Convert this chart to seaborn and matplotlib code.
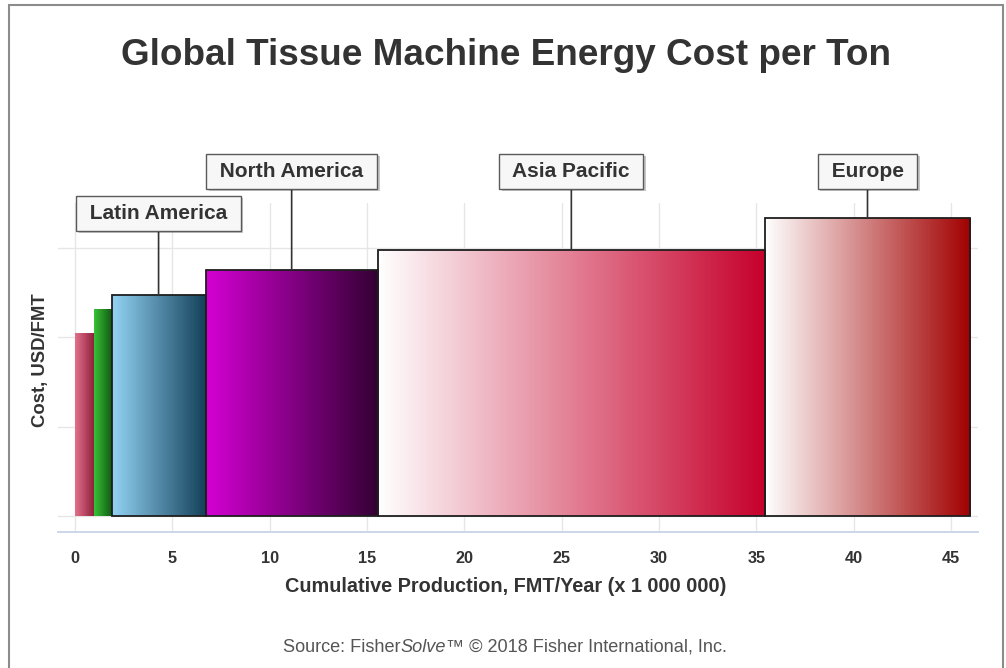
import numpy as np
import pandas as pd
import matplotlib
matplotlib.use("Agg")
import matplotlib.pyplot as plt
import matplotlib.patheffects as pe
from matplotlib.colors import LinearSegmentedColormap
from matplotlib.patches import Rectangle
import seaborn as sns

# Regional supply curve: width = production (million FMT/year), height = energy cost (USD/FMT)
labels = ["", "", "Latin America", "North America", "Asia Pacific", "Europe"]
production = [1.00, 0.88, 4.83, 8.84, 19.89, 10.53]
cost = [102.5, 116.0, 123.5, 138.0, 148.8, 167.0]

# Horizontal gradient of each bar (left colour -> right colour)
grad_start = ["#e4718b", "#36c236", "#93d3f4", "#d400d4", "#ffffff", "#ffffff"]
grad_end = ["#8a1d3b", "#135a13", "#123f58", "#330033", "#c6002b", "#a20000"]
outlined = [False, False, True, True, True, True]

x_ticks = list(range(0, 50, 5))
y_grid = [0, 50, 100, 150]

title = "Global Tissue Machine Energy Cost per Ton"
x_title = "Cumulative Production, FMT/Year (x 1 000 000)"
y_title = "Cost, USD/FMT"

edges = [0.0] + list(np.cumsum(production))
df = pd.DataFrame({"region": labels, "production": production, "cost": cost})
df["mid"] = [(a + b) / 2 for a, b in zip(edges[:-1], edges[1:])]

sns.set_theme(style="white")
plt.rcParams["font.family"] = ["Liberation Sans", "DejaVu Sans"]

W, H = 1006, 668
fig = plt.figure(figsize=(W / 100, H / 100), dpi=100)
ax_bottom, ax_top = 531.7, 203
ax = fig.add_axes([58 / W, 1 - ax_bottom / H, (978 - 58) / W, (ax_bottom - ax_top) / H])

sns.histplot(data=df, x="mid", weights="cost", bins=edges, ax=ax,
             stat="count", fill=True, linewidth=0, legend=False)

bars = list(ax.patches)
for bar, c0, c1, has_edge in zip(bars, grad_start, grad_end, outlined):
    x0, y0 = bar.get_x(), bar.get_y()
    w, h = bar.get_width(), bar.get_height()
    cmap = LinearSegmentedColormap.from_list("bar", [c0, c1])
    im = ax.imshow(np.linspace(0, 1, 256)[None, :], cmap=cmap,
                   extent=(x0, x0 + w, y0, y0 + h), aspect="auto",
                   interpolation="bilinear", zorder=2)
    im.set_clip_path(bar)
    bar.set_facecolor("none")
    bar.set_zorder(3)
    if has_edge:
        bar.set_edgecolor("#1e1e1e")
        bar.set_linewidth(1.3)
    else:
        bar.set_edgecolor("none")

ax.set_xlim(-0.87, 46.38)
ax.set_ylim(-8.67, 175.2)
ax.set_aspect("auto")

ax.set_xticks(x_ticks)
ax.set_xticklabels([str(t) for t in x_ticks])
ax.set_yticks(y_grid)
ax.set_yticklabels([])
ax.set_axisbelow(True)
ax.grid(True, color="#e6e6e6", linewidth=1.0)

for side in ["left", "right", "top"]:
    ax.spines[side].set_visible(False)
ax.spines["bottom"].set_color("#ccd6eb")
ax.spines["bottom"].set_linewidth(1.4)

ax.tick_params(axis="x", direction="inout", length=18, width=1.2, color="#ccd6eb",
               pad=5, labelsize=11.7, labelcolor="#333333")
for lab in ax.get_xticklabels():
    lab.set_fontweight("bold")
ax.tick_params(axis="y", length=0)

ax.set_xlabel(x_title, fontsize=14.3, fontweight="bold", color="#333333")
ax.xaxis.label.set_va("baseline")
ax.xaxis.set_label_coords((506 - 58) / 920, (ax_bottom - 591.7) / (ax_bottom - ax_top))
ax.set_ylabel(y_title, fontsize=13.3, fontweight="bold", color="#333333")
ax.yaxis.set_label_coords(-0.010, 0.522)

# Region call-outs
label_y = {"Latin America": 169.4}
for lab, mid, c in zip(labels, df["mid"], cost):
    if not lab:
        continue
    ty = label_y.get(lab, 192.9)
    t = ax.annotate(f" {lab} ", xy=(mid, c), xytext=(mid, ty), textcoords="data",
                    ha="center", va="center", fontsize=15, fontweight="bold",
                    color="#333333", annotation_clip=False, zorder=6,
                    bbox=dict(boxstyle="square,pad=0.38", fc="#f7f7f7", ec="#5a5a5a", lw=1.0),
                    arrowprops=dict(arrowstyle="-", color="#333333", lw=1.2,
                                    shrinkA=0, shrinkB=0))
    t.get_bbox_patch().set_path_effects(
        [pe.SimplePatchShadow(offset=(1.8, -1.8), shadow_rgbFace="#000000", alpha=0.22),
         pe.Normal()])

fig.text(506.5 / W, 1 - 65 / H, title, ha="center", va="baseline",
         fontsize=26.6, fontweight="bold", color="#333333")

# Source line with the italic product name
src_color = "#555555"
base_y = 1 - 651.7 / H
s1 = fig.text(283 / W, base_y, "Source: Fisher", ha="left", va="baseline",
              fontsize=13.1, color=src_color)
s2 = fig.text(0, base_y, "Solve", fontsize=13.1, color=src_color, style="italic",
              ha="left", va="baseline")
s3 = fig.text(0, base_y, "™ © 2018 Fisher International, Inc.", fontsize=13.1,
              color=src_color, ha="left", va="baseline")
fig.canvas.draw()
r = fig.canvas.get_renderer()
bb1 = s1.get_window_extent(r)
s2.set_x(bb1.x1 / W)
bb2 = s2.get_window_extent(r)
s3.set_x(bb2.x1 / W)

fig.add_artist(Rectangle((8.5 / W, -0.02), (1003 - 8.5) / W, 1.02 - 4.5 / H,
                         transform=fig.transFigure, fill=False, ec="#8c8c8c", lw=1.5))

fig.savefig("out.png", dpi=100)
